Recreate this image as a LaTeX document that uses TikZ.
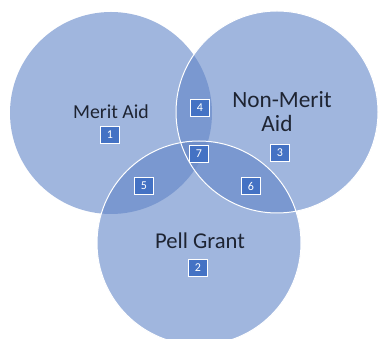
\documentclass[tikz,border=0pt]{standalone}
\usepackage{fontspec}
\setmainfont{Carlito}
\definecolor{venlight}{RGB}{160,182,222}
\definecolor{vendark}{RGB}{122,152,208}
\definecolor{vencore}{RGB}{112,143,202}
\definecolor{numbox}{RGB}{68,114,196}
\definecolor{txt}{RGB}{30,36,50}
\begin{document}
\begin{tikzpicture}[x=1pt,y=1pt,
  numtag/.style={draw=white,line width=1.3pt,fill=numbox,text=white,font=\fontsize{12}{13}\selectfont,minimum width=19pt,minimum height=17pt,inner sep=0pt},
  lbl/.style={text=txt,anchor=base,inner sep=0pt}]
\useasboundingbox (0,0) rectangle (382,339);
\fill[white] (0,0) rectangle (382,339);
\def\cA{(111,226) circle (101)}
\def\cB{(277,227) circle (101)}
\def\cC{(199,96) circle (102)}
\fill[venlight] \cA;
\fill[venlight] \cB;
\fill[venlight] \cC;
\begin{scope}\clip \cA; \fill[vendark] \cB; \fill[vendark] \cC; \end{scope}
\begin{scope}\clip \cB; \fill[vendark] \cC; \end{scope}
\begin{scope}\clip \cA; \clip \cB; \fill[vencore] \cC; \end{scope}
\draw[white,line width=1pt] \cB;
\draw[white,line width=1pt] \cC;
\node[lbl,font=\fontsize{19.8}{23}\selectfont] (merit) at (111,220) {Merit Aid};
\node[lbl,font=\fontsize{23.3}{28}\selectfont] (nonmerit) at (282,231.3) {Non-Merit};
\node[lbl,font=\fontsize{23.3}{28}\selectfont] (nonmeritaid) at (277,207.3) {Aid};
\node[lbl,font=\fontsize{22.6}{26}\selectfont] (pell) at (200,90.7) {Pell Grant};
\node[numtag] (n1) at (110,204) {1};
\node[numtag] (n2) at (198,71) {2};
\node[numtag] (n3) at (280,186) {3};
\node[numtag] (n4) at (200,231) {4};
\node[numtag] (n7) at (199,185) {7};
\node[numtag] (n5) at (144,153) {5};
\node[numtag] (n6) at (251,153) {6};
\end{tikzpicture}
\end{document}
